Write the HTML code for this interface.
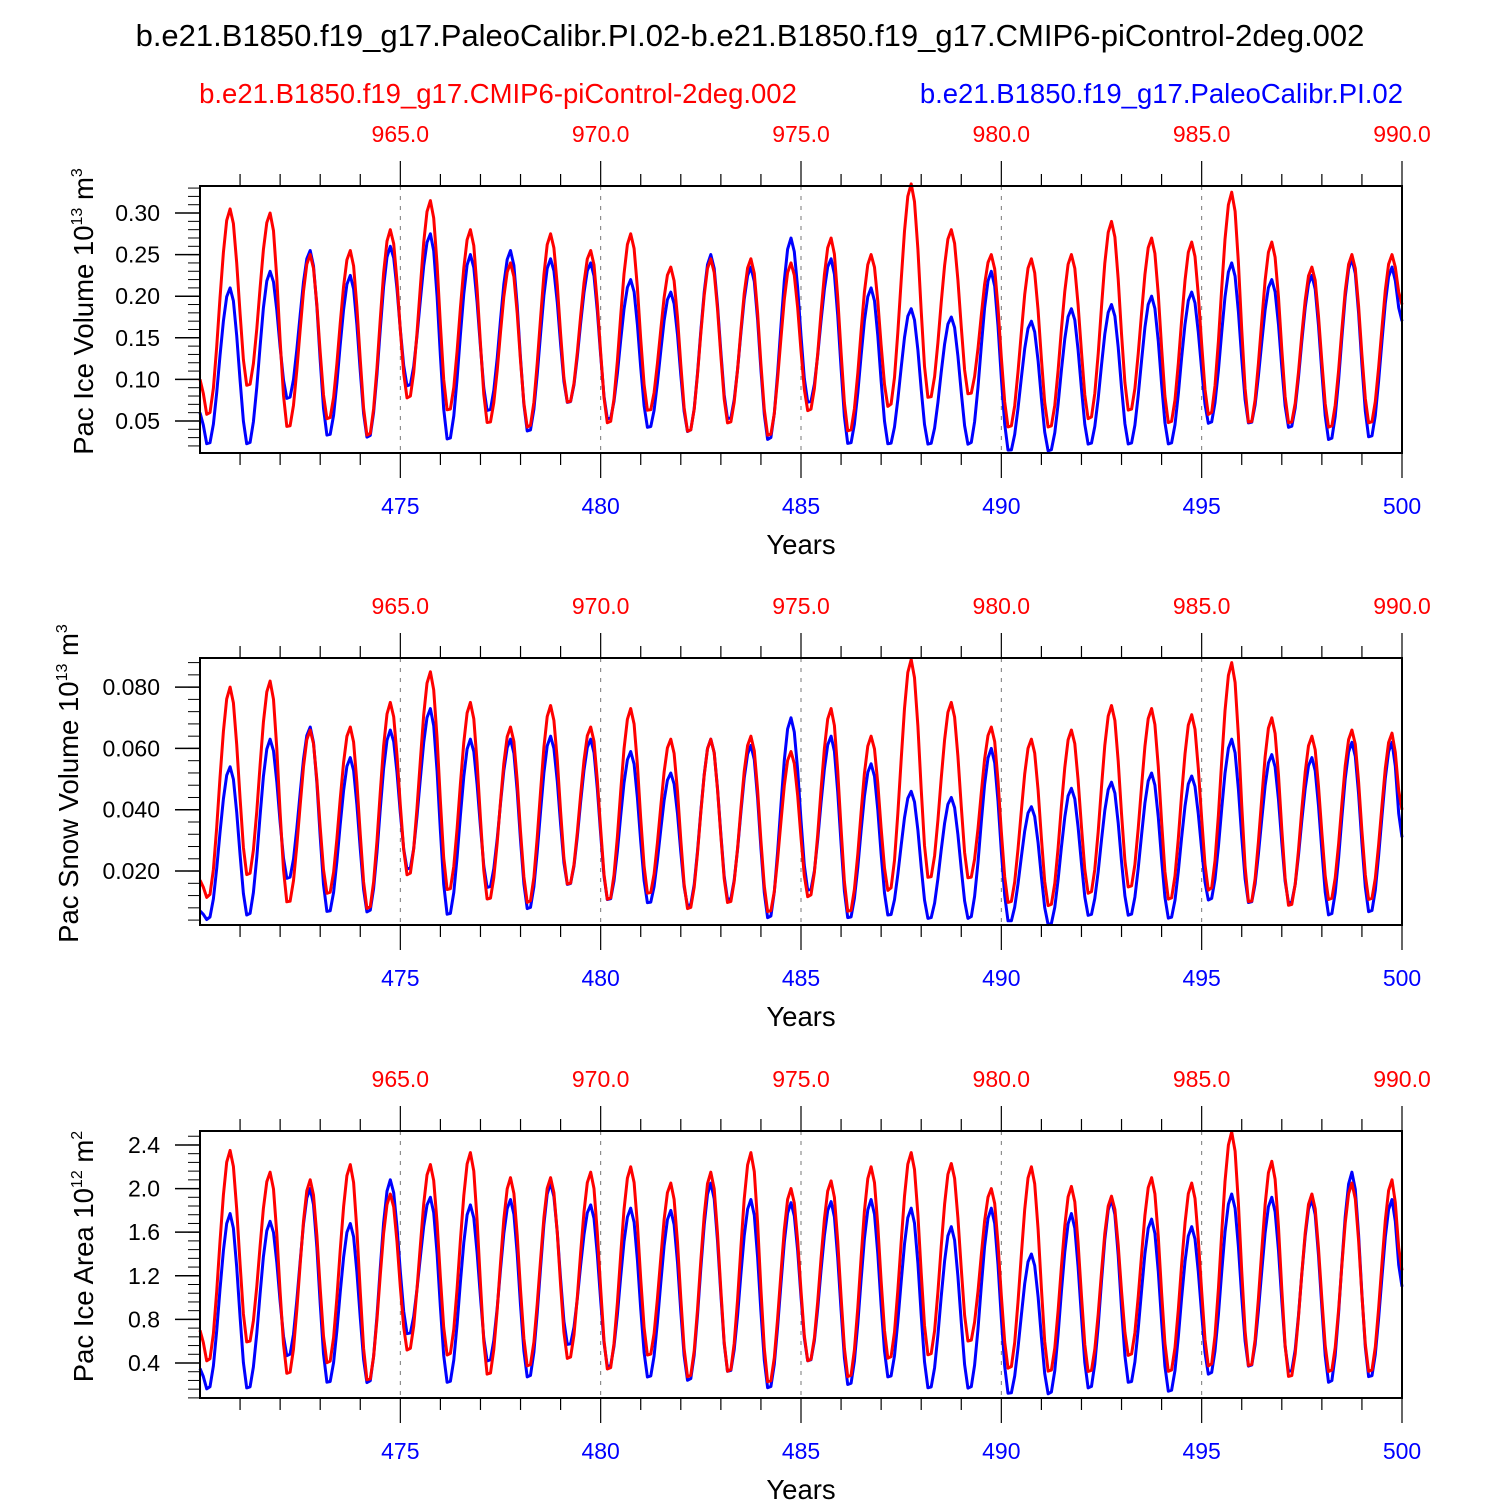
<!DOCTYPE html>
<html><head><meta charset="utf-8"><style>
body{margin:0;background:#fff}
svg{display:block;font-family:"Liberation Sans",sans-serif}
</style></head><body>
<svg id="c" width="1500" height="1500" viewBox="0 0 1500 1500">
<text x="750" y="46" font-size="31" text-anchor="middle">b.e21.B1850.f19_g17.PaleoCalibr.PI.02-b.e21.B1850.f19_g17.CMIP6-piControl-2deg.002</text>
<text x="498" y="103" font-size="27.5" fill="#f00" text-anchor="middle">b.e21.B1850.f19_g17.CMIP6-piControl-2deg.002</text>
<text x="1403" y="103" font-size="27.5" fill="#00f" text-anchor="end">b.e21.B1850.f19_g17.PaleoCalibr.PI.02</text>
</svg>
<script>
// Panel 1: Pac Ice Volume (peak and trough values for each year, 470-499)
const iceVolRedPeak=[.305,.30,.25,.255,.28,.315,.28,.24,.275,.255,.275,.235,.245,.245,.24,.27,.25,.335,.28,.25,.245,.25,.29,.27,.265,.325,.265,.235,.25,.25];
const iceVolBluePeak=[.21,.23,.255,.225,.26,.275,.25,.255,.245,.24,.22,.205,.25,.235,.27,.245,.21,.185,.175,.23,.17,.185,.19,.20,.205,.24,.22,.225,.245,.235];
const iceVolRedTrough=[.055,.09,.04,.05,.03,.075,.06,.045,.04,.07,.045,.06,.035,.045,.03,.06,.035,.065,.075,.08,.04,.04,.05,.06,.045,.055,.045,.045,.04,.045];
const iceVolBlueTrough=[.02,.02,.075,.03,.028,.09,.025,.06,.035,.07,.05,.04,.035,.05,.025,.07,.02,.02,.02,.02,.012,.012,.02,.02,.02,.045,.045,.04,.025,.028];
const iceVolEnds={red:[.10,.19],blue:[.06,.17]};
// Panel 2: Pac Snow Volume
const snowRedPeak=[.080,.082,.066,.067,.075,.085,.075,.067,.074,.067,.073,.063,.063,.064,.059,.073,.064,.089,.075,.067,.063,.066,.074,.073,.071,.088,.070,.064,.066,.065];
const snowBluePeak=[.054,.063,.067,.057,.066,.073,.063,.063,.064,.063,.059,.052,.063,.061,.070,.064,.055,.046,.044,.060,.041,.047,.049,.052,.051,.063,.058,.057,.062,.062];
const snowRedTrough=[.011,.018,.009,.012,.007,.018,.013,.010,.009,.015,.010,.012,.007,.009,.006,.011,.006,.013,.017,.017,.009,.008,.012,.014,.010,.013,.009,.008,.010,.010];
const snowBlueTrough=[.004,.005,.017,.006,.006,.020,.005,.014,.007,.015,.010,.009,.008,.010,.004,.013,.004,.005,.004,.004,.003,.002,.005,.005,.004,.010,.009,.009,.005,.006];
const snowEnds={red:[.017,.040],blue:[.007,.031]};
// Panel 3: Pac Ice Area
const areaRedPeak=[2.35,2.15,2.08,2.22,1.95,2.22,2.33,2.1,2.1,2.15,2.2,2.05,2.15,2.33,2.0,2.07,2.2,2.33,2.23,2.0,2.2,2.02,1.93,2.1,2.05,2.52,2.25,1.95,2.05,2.08];
const areaBluePeak=[1.77,1.7,2.0,1.68,2.08,1.92,1.85,1.9,2.05,1.85,1.82,1.8,2.05,1.9,1.87,1.88,1.9,1.82,1.65,1.82,1.4,1.77,1.9,1.72,1.65,1.95,1.92,1.9,2.15,1.9];
const areaRedTrough=[.4,.57,.28,.38,.22,.5,.45,.27,.35,.42,.32,.45,.25,.3,.2,.4,.25,.42,.45,.58,.33,.3,.3,.45,.3,.35,.35,.25,.3,.3];
const areaBlueTrough=[.15,.15,.45,.2,.2,.65,.2,.4,.25,.55,.35,.25,.22,.3,.15,.4,.18,.25,.15,.15,.1,.1,.15,.2,.12,.28,.35,.3,.2,.25];
const areaEnds={red:[.7,1.25],blue:[.35,1.1]};
const bottomTicks=[475,480,485,490,495,500];
const topTickLabels=["965.0","970.0","975.0","980.0","985.0","990.0"];
const iceVolTicks=[.05,.10,.15,.20,.25,.30];
const snowTicks=[.02,.04,.06,.08];
const areaTicks=[.4,.8,1.2,1.6,2.0,2.4];

const NS="http://www.w3.org/2000/svg",svg=document.getElementById('c');
function mk(t,a,p){const e=document.createElementNS(NS,t);for(const k in a)e.setAttribute(k,a[k]);(p||svg).appendChild(e);return e;}
const X0=200,X1=1402;
const xs=v=>X0+(v-470)/30*(X1-X0);

function series(peaks,troughs,ends){
  const keys=[[470,ends[0]]];
  for(let k=0;k<30;k++){keys.push([470+k+0.2,troughs[k]]);keys.push([470+k+0.75,peaks[k]]);}
  keys.push([500,ends[1]]);
  const pts=[];
  for(let i=0;i<=360;i++){const t=470+i/12;
    let j=0;while(j<keys.length-2&&keys[j+1][0]<t)j++;
    const a=keys[j],b=keys[j+1];let f=(t-a[0])/(b[0]-a[0]);f=Math.max(0,Math.min(1,f));
    const e=(1-Math.cos(Math.PI*f))/2;pts.push([t,a[1]+(b[1]-a[1])*e]);}
  return pts;
}

function panel(idx,top,bot,ymin,ymax,ticks,fmt,minorStep,title,sup,sup2,data){
  const g=mk('g',{});
  
  
  const ys=v=>bot-(v-ymin)/(ymax-ymin)*(bot-top);
  for(let y=475;y<500;y+=5){const l=mk('line',{x1:xs(y),x2:xs(y),y1:top,y2:bot,stroke:'#777','stroke-width':1,'stroke-dasharray':'4,6'},g);
    }
  [['blue',data[1]],['red',data[0]]].forEach(([n,d])=>{
    const pts=series(d[0],d[1],d[2]).map(p=>xs(p[0]).toFixed(1)+','+ys(p[1]).toFixed(1)).join(' ');
    const pl=mk('polyline',{points:pts,fill:'none',stroke:n=='red'?'#f00':'#00f','stroke-width':3,'stroke-linejoin':'round'},g);
    
  });
  const fr=mk('rect',{x:X0,y:top,width:X1-X0,height:bot-top,fill:'none',stroke:'#000','stroke-width':2},g);
  
  for(let v=Math.ceil(ymin/minorStep)*minorStep;v<=ymax;v+=minorStep){
    mk('line',{x1:X0-12,x2:X0,y1:ys(v),y2:ys(v),stroke:'#000','stroke-width':1},g);}
  ticks.forEach(v=>{mk('line',{x1:X0-25,x2:X0,y1:ys(v),y2:ys(v),stroke:'#000','stroke-width':1.5},g);
    const t=mk('text',{x:X0-40,y:ys(v)+8,'font-size':23,'text-anchor':'end'},g);t.textContent=fmt(v);
    });
  for(let y=471;y<=500;y++){const maj=y%5==0;
    mk('line',{x1:xs(y),x2:xs(y),y1:bot,y2:bot+(maj?25:12),stroke:'#000','stroke-width':1.2},g);
    mk('line',{x1:xs(y),x2:xs(y),y1:top,y2:top-(maj?25:12),stroke:'#000','stroke-width':1.2},g);}
  bottomTicks.forEach((y,i)=>{
    const t=mk('text',{x:xs(y),y:bot+61,'font-size':23,'text-anchor':'middle',fill:'#00f'},g);t.textContent=y;
    
    const u=mk('text',{x:xs(y),y:top-44,'font-size':23,'text-anchor':'middle',fill:'#f00'},g);u.textContent=topTickLabels[i];
    });
  const xt=mk('text',{x:801,y:bot+101,'font-size':27.5,'text-anchor':'middle'},g);xt.textContent='Years';
  
  const cy=(top+bot)/2-8;
  const yt=mk('text',{x:0,y:0,'font-size':27.5,'text-anchor':'middle',transform:`translate(${idx==2?78:93},${cy}) rotate(-90)`},g);
  
  yt.appendChild(document.createTextNode(title+' 10'));
  const s=mk('tspan',{'font-size':16,dy:-11},yt);s.textContent=sup;
  const s2=mk('tspan',{dy:11},yt);s2.textContent=' m';
  const s3=mk('tspan',{'font-size':16,dy:-11},yt);s3.textContent=sup2;
}
panel(1,186,453,0.0115,0.3325,iceVolTicks,v=>v.toFixed(2),0.01,'Pac Ice Volume','13','3',
  [[iceVolRedPeak,iceVolRedTrough,iceVolEnds.red],[iceVolBluePeak,iceVolBlueTrough,iceVolEnds.blue]]);
panel(2,658,925,0.0024,0.0895,snowTicks,v=>v.toFixed(3),0.004,'Pac Snow Volume','13','3',
  [[snowRedPeak,snowRedTrough,snowEnds.red],[snowBluePeak,snowBlueTrough,snowEnds.blue]]);
panel(3,1131,1398,0.079,2.528,areaTicks,v=>v.toFixed(1),0.08,'Pac Ice Area','12','2',
  [[areaRedPeak,areaRedTrough,areaEnds.red],[areaBluePeak,areaBlueTrough,areaEnds.blue]]);
</script>
</body></html>
